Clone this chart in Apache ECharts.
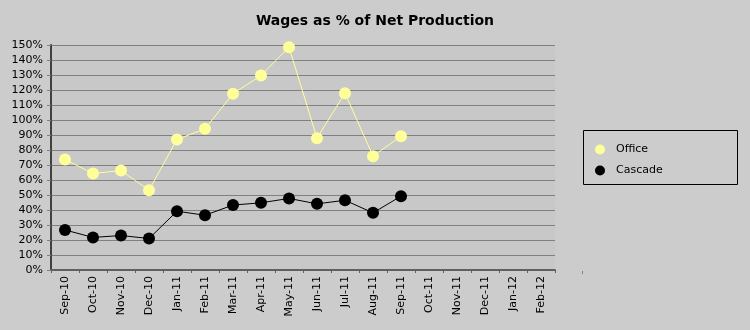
<!DOCTYPE html>
<html>
<head>
<meta charset="utf-8">
<script src="https://cdn.jsdelivr.net/npm/echarts@6/dist/echarts.min.js"></script>
<style>
  html, body { margin: 0; padding: 0; background: #cccccc; }
  #chart { width: 750px; height: 330px; }
</style>
</head>
<body>
<div id="chart"></div>
<script>
// Monthly categories on the x axis
var months = ['Sep-10', 'Oct-10', 'Nov-10', 'Dec-10', 'Jan-11', 'Feb-11', 'Mar-11',
  'Apr-11', 'May-11', 'Jun-11', 'Jul-11', 'Aug-11', 'Sep-11', 'Oct-11', 'Nov-11',
  'Dec-11', 'Jan-12', 'Feb-12'];

// Wages as a percentage of net production (only the first 13 months have data)
var officeValues = [73.7, 64.3, 66.3, 53.2, 87.0, 94.1, 117.5, 129.7, 148.5, 87.9, 117.9, 75.9, 89.2];
var cascadeValues = [26.7, 21.7, 23.0, 21.0, 39.2, 36.5, 43.3, 44.8, 47.7, 44.1, 46.5, 38.1, 49.2];

// Y axis range
var yMin = 0, yMax = 150, yStep = 10;

var font = '"DejaVu Sans", "Noto Sans", sans-serif';

var chart = echarts.init(document.getElementById('chart'), null, { renderer: 'canvas' });

chart.setOption({
  animation: false,
  backgroundColor: '#cccccc',
  textStyle: { fontFamily: font },
  title: {
    text: 'Wages as % of Net Production',
    left: 'center',
    top: 9,
    textStyle: { fontFamily: font, fontSize: 14, fontWeight: 'bold', color: '#000' }
  },
  grid: {
    left: 51, right: 195, top: 45, bottom: 60,
    show: true, backgroundColor: '#c8c8c8', borderWidth: 0
  },
  legend: {
    orient: 'vertical',
    left: 590, top: 139,
    itemWidth: 10, itemHeight: 10, itemGap: 10,
    textStyle: { fontFamily: font, fontSize: 11, color: '#000', padding: [0, 0, 0, 6] },
    data: [
      { name: 'Office', icon: 'circle', itemStyle: { color: '#ffff99' } },
      { name: 'Cascade', icon: 'circle', itemStyle: { color: '#000000' } }
    ]
  },
  graphic: [
    {
      type: 'rect',
      shape: { x: 583.5, y: 130.5, width: 154, height: 54 },
      style: { fill: null, stroke: '#000', lineWidth: 1 },
      silent: true
    },
    {
      type: 'line',
      shape: { x1: 582.5, y1: 271, x2: 582.5, y2: 274 },
      style: { stroke: '#808080', lineWidth: 1 },
      silent: true
    }
  ],
  xAxis: {
    type: 'category',
    data: months,
    boundaryGap: true,
    axisLine: { lineStyle: { color: '#606060', width: 2 } },
    axisTick: { show: true, length: 3, lineStyle: { color: '#606060' } },
    axisLabel: { rotate: 90, fontSize: 11, color: '#000', margin: 6, fontFamily: font },
    splitLine: { show: false }
  },
  yAxis: {
    type: 'value',
    min: yMin, max: yMax, interval: yStep,
    axisLine: { show: true, lineStyle: { color: '#404040', width: 2 } },
    axisTick: { show: true, length: 4, lineStyle: { color: '#808080' } },
    axisLabel: {
      fontSize: 11, color: '#000', margin: 8, fontFamily: font,
      formatter: '{value}%'
    },
    splitLine: { show: true, lineStyle: { color: '#808080', width: 1 } }
  },
  series: [
    {
      name: 'Office',
      type: 'line',
      data: officeValues,
      symbol: 'circle',
      symbolSize: 12,
      itemStyle: { color: '#ffff99' },
      lineStyle: { color: '#ffff99', width: 1 },
      z: 3
    },
    {
      name: 'Cascade',
      type: 'line',
      data: cascadeValues,
      symbol: 'circle',
      symbolSize: 12,
      itemStyle: { color: '#000000' },
      lineStyle: { color: '#000000', width: 1 },
      z: 2
    }
  ]
});
</script>
</body>
</html>
